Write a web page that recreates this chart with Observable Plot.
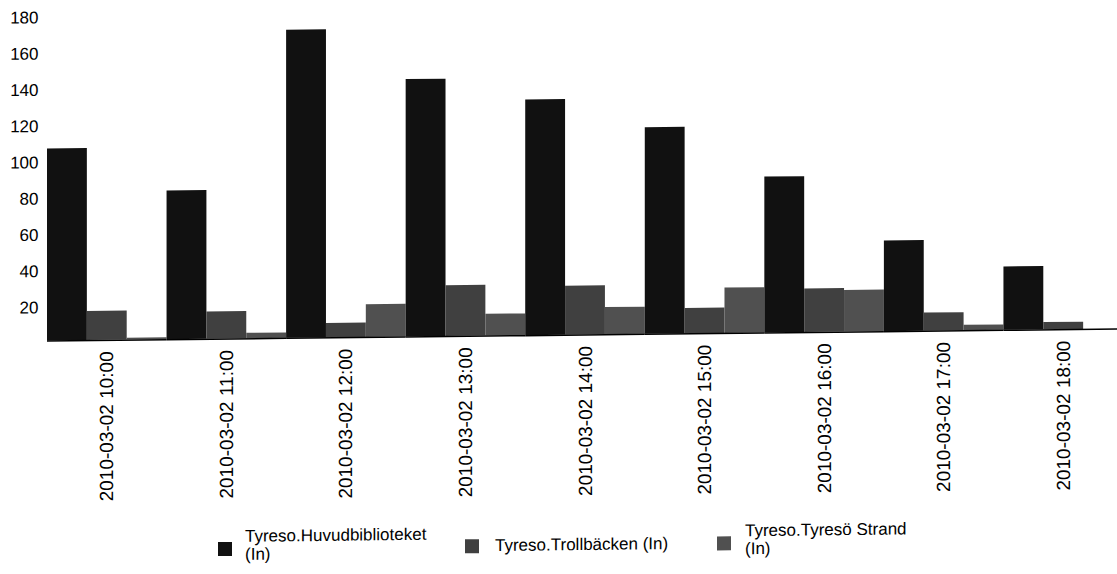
<!DOCTYPE html>
<html>
<head>
<meta charset="utf-8">
<script src="https://cdn.jsdelivr.net/npm/d3@7"></script>
<script src="https://cdn.jsdelivr.net/npm/@observablehq/plot@0.6"></script>
<style>
  html, body { margin: 0; padding: 0; background: #fff; overflow: hidden; }
  #wrap { position: relative; width: 1117px; height: 574px; transform: skewY(-0.64deg); transform-origin: 47px 0; font-family: Arial, "Liberation Sans", sans-serif; }
  #legend { position: relative; width: 1117px; height: 62px; font-size: 17px; line-height: 18px; color: #000; }
  .lg-text { position: absolute; white-space: nowrap; }
  .lg-sw { position: absolute; width: 14px; height: 14px; }
</style>
</head>
<body>
<div id="wrap">
  <div id="chart"></div>
  <div id="legend"></div>
</div>
<script>
// ---- data ----
const times = [
  "2010-03-02 10:00", "2010-03-02 11:00", "2010-03-02 12:00",
  "2010-03-02 13:00", "2010-03-02 14:00", "2010-03-02 15:00",
  "2010-03-02 16:00", "2010-03-02 17:00", "2010-03-02 18:00"
];
const seriesNames = [
  "Tyreso.Huvudbiblioteket (In)",
  "Tyreso.Trollbäcken (In)",
  "Tyreso.Tyresö Strand (In)"
];
const legendLines = [
  ["Tyreso.Huvudbiblioteket", "(In)"],
  ["Tyreso.Trollbäcken (In)"],
  ["Tyreso.Tyresö Strand", "(In)"]
];
const huvudbiblioteket = [106, 82, 170, 142, 130, 114, 86, 50, 35];
const trollbacken      = [16, 15, 8, 28, 27, 14, 24, 10, 4];
const tyresoStrand     = [1, 3, 18, 12, 15, 25, 23, 3, 0];
const yTicks = [20, 40, 60, 80, 100, 120, 140, 160, 180];

// ---- styles ----
const colors = ["#111111", "#404040", "#505050"];
const font = 'Arial, "Liberation Sans", sans-serif';

const seriesValues = [huvudbiblioteket, trollbacken, tyresoStrand];
const data = times.flatMap((t, i) =>
  seriesNames.map((s, j) => ({ time: t, series: s, value: seriesValues[j][i] }))
);

const baseY = 340.5, pxPerUnit = 1.8125;

const chart = Plot.plot({
  width: 1117,
  height: 512,
  marginLeft: 47,
  marginRight: -6,
  marginTop: 14,
  marginBottom: 512 - baseY,
  style: { fontFamily: font, color: "#000", background: "transparent" },
  fx: { domain: times, padding: 0, round: false },
  x: { domain: seriesNames, padding: 0, round: false, axis: null },
  y: { domain: [0, 180], range: [baseY, baseY - 180 * pxPerUnit] },
  color: { domain: seriesNames, range: colors },
  marks: [
    Plot.barY(data, { fx: "time", x: "series", y: "value", fill: "series" }),
    Plot.ruleY([0], { stroke: "#000", strokeWidth: 1.5 }),
    Plot.axisY({ ticks: yTicks, tickSize: 0, tickPadding: 9, fontSize: 17, dy: 3, label: null }),
    Plot.axisFx({ anchor: "bottom", tickRotate: -90, tickSize: 0, tickPadding: 11, fontSize: 19, label: null })
  ]
});
document.getElementById("chart").appendChild(chart);

// ---- legend ----
const legend = d3.select("#legend");
const swatchX = [218, 465, 717];
const textX = [245, 495, 745];
legendLines.forEach((lines, i) => {
  legend.append("div").attr("class", "lg-sw")
    .style("left", swatchX[i] + "px").style("top", "31.5px")
    .style("background", colors[i]);
  const top = lines.length > 1 ? 18.1 : 30.1;
  const t = legend.append("div").attr("class", "lg-text")
    .style("left", textX[i] + "px").style("top", top + "px");
  lines.forEach((ln, k) => {
    if (k) t.append("br");
    t.append("span").text(ln);
  });
});
</script>
</body>
</html>
